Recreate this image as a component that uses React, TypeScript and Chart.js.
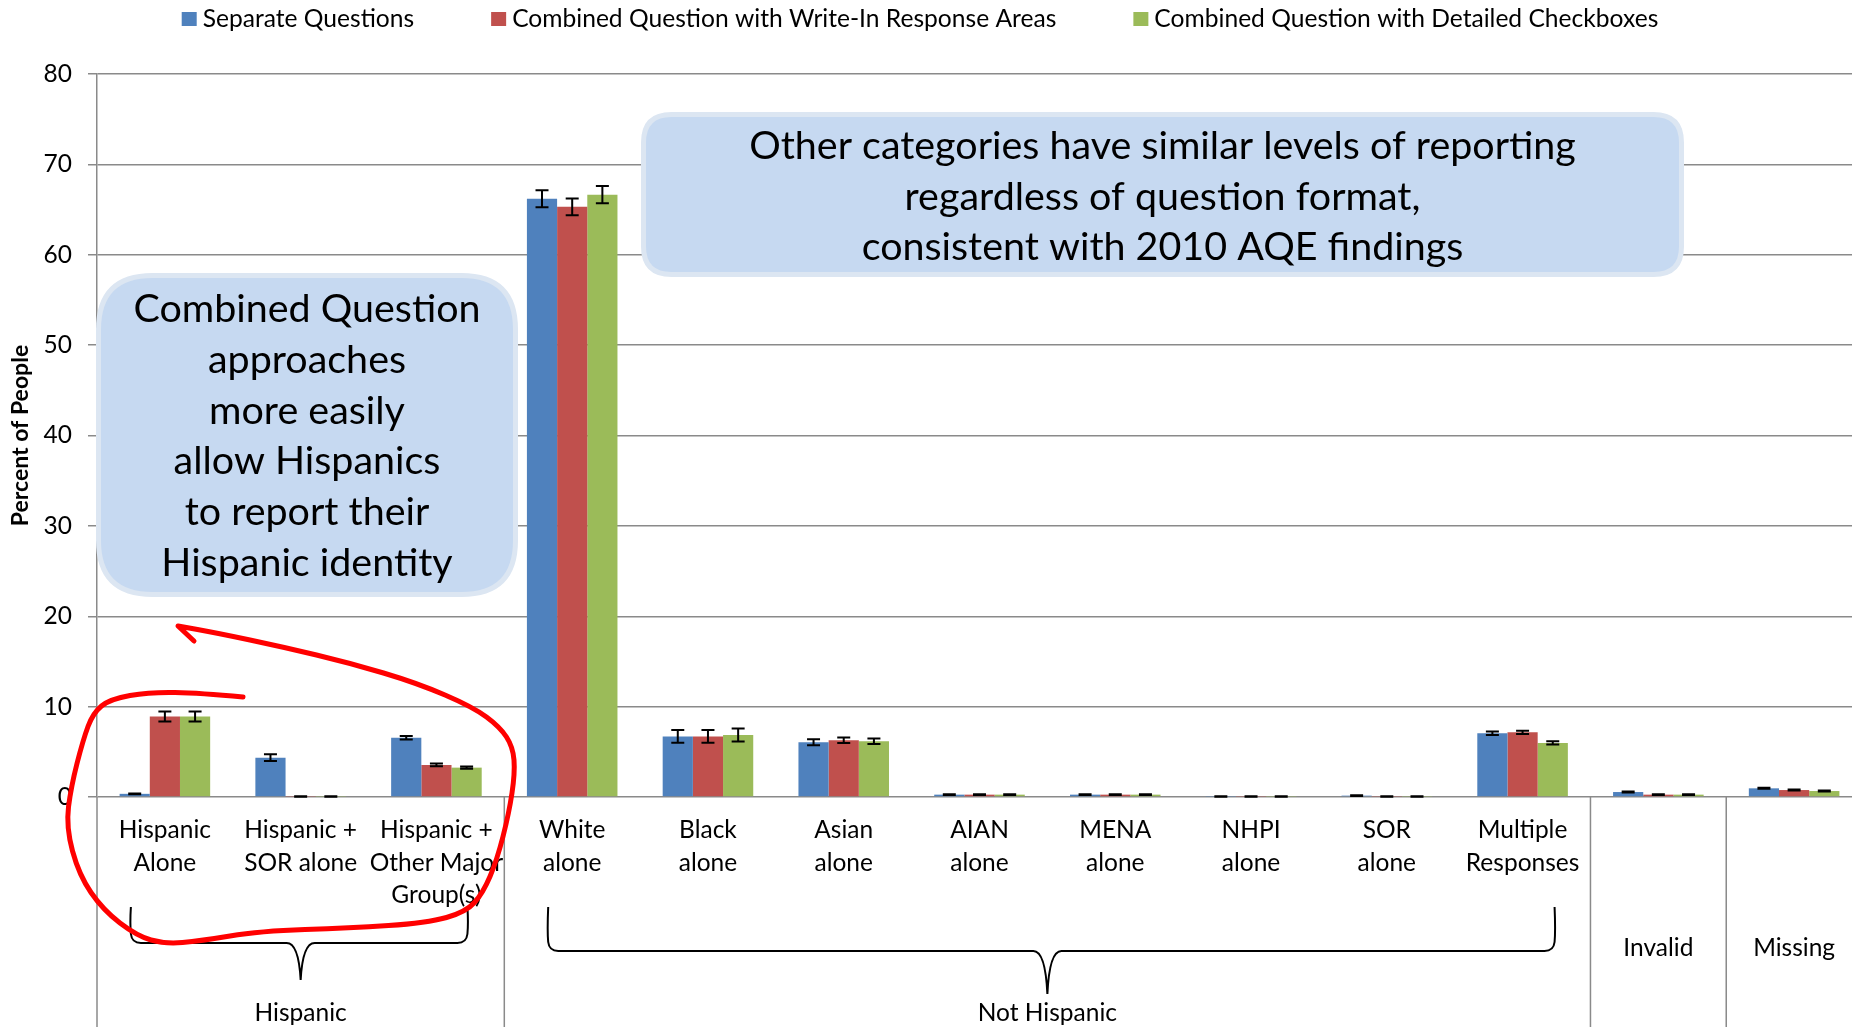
import React, { useEffect, useRef } from 'react';
import { Chart, registerables } from 'chart.js';

Chart.register(...registerables);

// ---------------- data ----------------
const categories: (string | string[])[] = [
  ['Hispanic', 'Alone'],
  ['Hispanic +', 'SOR alone'],
  ['Hispanic +', 'Other Major', 'Group(s)'],
  ['White', 'alone'],
  ['Black', 'alone'],
  ['Asian', 'alone'],
  ['AIAN', 'alone'],
  ['MENA', 'alone'],
  ['NHPI', 'alone'],
  ['SOR', 'alone'],
  ['Multiple', 'Responses'],
  'Invalid',
  'Missing',
];

const seriesNames = [
  'Separate Questions',
  'Combined Question with Write-In Response Areas',
  'Combined Question with Detailed Checkboxes',
];
const seriesColors = ['#4F81BD', '#C0504D', '#9BBB59'];

const separateValues = [0.35, 4.35, 6.55, 66.2, 6.7, 6.05, 0.26, 0.26, 0.05, 0.15, 7.05, 0.55, 0.96];
const writeInValues = [8.9, 0.05, 3.55, 65.3, 6.7, 6.27, 0.26, 0.26, 0.05, 0.05, 7.16, 0.26, 0.77];
const checkboxValues = [8.9, 0.05, 3.25, 66.65, 6.86, 6.16, 0.26, 0.26, 0.05, 0.05, 5.98, 0.26, 0.66];

const separateErrors = [0.05, 0.38, 0.2, 0.95, 0.7, 0.33, 0.05, 0.05, 0.03, 0.03, 0.2, 0.06, 0.06];
const writeInErrors = [0.55, 0.03, 0.15, 0.93, 0.7, 0.3, 0.05, 0.05, 0.03, 0.03, 0.18, 0.05, 0.05];
const checkboxErrors = [0.55, 0.03, 0.13, 0.95, 0.72, 0.3, 0.05, 0.05, 0.03, 0.03, 0.18, 0.05, 0.05];

const yMin = 0;
const yMax = 80;
const yStep = 10;

const groupLabels = ['Hispanic', 'Not Hispanic'];
const groupFirstIndex = [0, 3];
const groupLastIndex = [2, 10];
const separatorIndices = [3, 11, 12];

const calloutHispanic = [
  'Combined Question',
  'approaches',
  'more easily',
  'allow Hispanics',
  'to report their',
  'Hispanic identity',
];
const calloutOther = [
  'Other categories have similar levels of reporting',
  'regardless of question format,',
  'consistent with 2010 AQE findings',
];

// ---------------- styles ----------------
const FONT = 'Lato, "Open Sans", sans-serif';
const AXIS_GRAY = '#8a8a8a';
const TICK_SIZE = 24.5;
const LEGEND_SIZE = 24.6;

const valueSeries = [separateValues, writeInValues, checkboxValues];
const errorSeries = [separateErrors, writeInErrors, checkboxErrors];

const errorBarPlugin = {
  id: 'errorBars',
  afterDatasetsDraw(chart: any) {
    const ctx = chart.ctx;
    const ys = chart.scales.y;
    ctx.save();
    ctx.strokeStyle = '#000';
    ctx.lineWidth = 2;
    chart.data.datasets.forEach((ds: any, di: number) => {
      const meta = chart.getDatasetMeta(di);
      const errs = errorSeries[di];
      meta.data.forEach((bar: any, i: number) => {
        const v = ds.data[i];
        const e = errs[i];
        const x = bar.x;
        const yt = ys.getPixelForValue(v + e);
        const yb = ys.getPixelForValue(Math.max(v - e, 0));
        const half = 6.5;
        ctx.beginPath();
        ctx.moveTo(x, yt);
        ctx.lineTo(x, yb);
        ctx.moveTo(x - half, yt);
        ctx.lineTo(x + half, yt);
        ctx.moveTo(x - half, yb);
        ctx.lineTo(x + half, yb);
        ctx.stroke();
      });
    });
    ctx.restore();
  },
};

function roundRect(ctx: CanvasRenderingContext2D, x: number, y: number, w: number, h: number, r: number) {
  ctx.beginPath();
  ctx.moveTo(x + r, y);
  ctx.lineTo(x + w - r, y);
  ctx.quadraticCurveTo(x + w, y, x + w, y + r);
  ctx.lineTo(x + w, y + h - r);
  ctx.quadraticCurveTo(x + w, y + h, x + w - r, y + h);
  ctx.lineTo(x + r, y + h);
  ctx.quadraticCurveTo(x, y + h, x, y + h - r);
  ctx.lineTo(x, y + r);
  ctx.quadraticCurveTo(x, y, x + r, y);
  ctx.closePath();
}

function drawCallout(ctx: CanvasRenderingContext2D, x: number, y: number, w: number, h: number, r: number,
  lines: string[], firstBaseline: number, lineGap: number, size: number) {
  ctx.save();
  roundRect(ctx, x + 2.5, y + 2.5, w - 5, h - 5, r);
  ctx.fillStyle = '#C6D9F1';
  ctx.fill();
  ctx.lineWidth = 5;
  ctx.strokeStyle = '#DCE6F2';
  ctx.stroke();
  ctx.fillStyle = '#000';
  ctx.font = `${size}px ${FONT}`;
  ctx.textAlign = 'center';
  ctx.textBaseline = 'alphabetic';
  lines.forEach((t, i) => ctx.fillText(t, x + w / 2, firstBaseline + i * lineGap));
  ctx.restore();
}

function drawBrace(ctx: CanvasRenderingContext2D, l: number, r: number, cx: number, top: number, bot: number, tip: number) {
  ctx.beginPath();
  ctx.moveTo(l, top);
  ctx.quadraticCurveTo(l - 1, bot - 20, l, bot - 9);
  ctx.quadraticCurveTo(l + 1, bot, l + 10, bot);
  ctx.lineTo(cx - 14, bot);
  ctx.quadraticCurveTo(cx - 2, bot, cx, tip);
  ctx.moveTo(cx + 14, bot);
  ctx.quadraticCurveTo(cx + 2, bot, cx, tip);
  ctx.moveTo(cx + 14, bot);
  ctx.lineTo(r - 10, bot);
  ctx.quadraticCurveTo(r - 1, bot, r, bot - 9);
  ctx.quadraticCurveTo(r + 1, bot - 20, r, top);
  ctx.stroke();
}

const redLoop: [number, number][] = [
  [243, 697], [200, 693], [150, 692], [110, 699], [93, 713], [83, 740], [71, 787], [66, 827],
  [79, 875], [103, 910], [137, 936], [165, 944], [200, 941], [260, 931], [350, 928], [427, 923],
  [466, 912], [483, 893], [497, 860], [509, 813], [515, 773], [513, 747], [500, 727], [473, 707],
  [417, 683], [350, 663], [283, 647], [217, 633], [178, 626],
];

const overlayPlugin = {
  id: 'overlay',
  afterDraw(chart: any) {
    const ctx: CanvasRenderingContext2D = chart.ctx;
    const xs = chart.scales.x;
    const area = chart.chartArea;
    const H = chart.height;
    ctx.save();

    // y-axis extension and category separators
    ctx.strokeStyle = AXIS_GRAY;
    ctx.lineWidth = 1.5;
    ctx.beginPath();
    ctx.moveTo(area.left, area.bottom);
    ctx.lineTo(area.left, H);
    separatorIndices.forEach((idx) => {
      const bx = (xs.getPixelForValue(idx - 1) + xs.getPixelForValue(idx)) / 2;
      ctx.moveTo(bx, area.bottom);
      ctx.lineTo(bx, H);
    });
    ctx.stroke();

    // group braces and labels
    ctx.strokeStyle = '#000';
    ctx.lineWidth = 2;
    const braceSpecs = [
      { lo: -34, hi: 31, top: 907, bot: 943, tip: 980 },
      { lo: -24, hi: 32, top: 907, bot: 951, tip: 994 },
    ];
    ctx.fillStyle = '#000';
    ctx.font = `${TICK_SIZE}px ${FONT}`;
    ctx.textAlign = 'center';
    ctx.textBaseline = 'middle';
    groupLabels.forEach((g, gi) => {
      const p0 = xs.getPixelForValue(groupFirstIndex[gi]);
      const p1 = xs.getPixelForValue(groupLastIndex[gi]);
      const s = braceSpecs[gi];
      const cx = (p0 + p1) / 2;
      drawBrace(ctx, p0 + s.lo, p1 + s.hi, cx, s.top, s.bot, s.tip);
      ctx.fillText(g, cx, 1013);
    });

    // legend
    ctx.font = `${LEGEND_SIZE}px ${FONT}`;
    const box = 15;
    const gapBox = 6;
    const gapItem = 77;
    const widths = seriesNames.map((n) => ctx.measureText(n).width);
    const total = widths.reduce((a, w) => a + box + gapBox + w, 0) + gapItem * (seriesNames.length - 1);
    let lx = 920 - total / 2;
    ctx.textAlign = 'left';
    ctx.textBaseline = 'middle';
    seriesNames.forEach((n, i) => {
      ctx.fillStyle = seriesColors[i];
      ctx.fillRect(lx, 12, box, 14);
      ctx.fillStyle = '#000';
      ctx.fillText(n, lx + box + gapBox, 19);
      lx += box + gapBox + widths[i] + gapItem;
    });

    // callouts
    ctx.font = `100px ${FONT}`;
    const calloutSize = (100 * 827) / ctx.measureText(calloutOther[0]).width;
    drawCallout(ctx, 96, 273, 422, 324, 54, calloutHispanic, 322, 50.8, calloutSize);
    drawCallout(ctx, 641, 112, 1043, 165, 28, calloutOther, 159, 50.5, calloutSize);

    // red hand-drawn loop with hook
    ctx.strokeStyle = '#FF0000';
    ctx.lineWidth = 5;
    ctx.lineCap = 'round';
    ctx.lineJoin = 'round';
    ctx.beginPath();
    ctx.moveTo(redLoop[0][0], redLoop[0][1]);
    for (let i = 1; i < redLoop.length - 1; i++) {
      const mx = (redLoop[i][0] + redLoop[i + 1][0]) / 2;
      const my = (redLoop[i][1] + redLoop[i + 1][1]) / 2;
      ctx.quadraticCurveTo(redLoop[i][0], redLoop[i][1], mx, my);
    }
    const last = redLoop[redLoop.length - 1];
    ctx.lineTo(last[0], last[1]);
    ctx.lineTo(last[0] + 16, last[1] + 15);
    ctx.stroke();

    ctx.restore();
  },
};

export default function App() {
  const ref = useRef<HTMLCanvasElement>(null);
  useEffect(() => {
    const canvas = ref.current!;
    const chart = new Chart(canvas, {
      type: 'bar',
      data: {
        labels: categories as any,
        datasets: seriesNames.map((name, i) => ({
          label: name,
          data: valueSeries[i],
          backgroundColor: seriesColors[i],
          categoryPercentage: 0.667,
          barPercentage: 1,
        })),
      },
      options: {
        animation: false,
        responsive: false,
        devicePixelRatio: 1,
        layout: { padding: { left: 0, top: 74, right: 8, bottom: 0 } },
        plugins: { legend: { display: false }, tooltip: { enabled: false } },
        scales: {
          x: {
            grid: { display: false, drawTicks: false },
            border: { display: false },
            ticks: {
              color: '#000',
              padding: 17,
              autoSkip: false,
              maxRotation: 0,
              minRotation: 0,
              font: (c: any) => {
                const lab = c && c.index !== undefined ? categories[c.index] : undefined;
                const single = typeof lab === 'string';
                return { family: FONT, size: TICK_SIZE, lineHeight: single ? 268 / TICK_SIZE : 32.5 / TICK_SIZE };
              },
            },
            afterFit: (s: any) => {
              s.height = 230;
              s.paddingLeft = 0;
              s.paddingRight = 0;
              s.paddingTop = 0;
              s.paddingBottom = 0;
            },
          } as any,
          y: {
            min: yMin,
            max: yMax,
            ticks: { stepSize: yStep, padding: 16, color: '#000', font: { family: FONT, size: TICK_SIZE } },
            grid: { color: AXIS_GRAY, lineWidth: 1.5, tickLength: 9, drawTicks: true },
            border: { color: AXIS_GRAY, width: 1.5 },
            title: {
              display: true,
              text: 'Percent of People',
              color: '#000',
              font: { family: FONT, size: 23, weight: 'bold' },
              padding: { top: 7, bottom: 0 },
            },
            afterFit: (s: any) => {
              s.width = 97;
              s.paddingTop = 0;
              s.paddingBottom = 0;
            },
          } as any,
        },
      },
      plugins: [errorBarPlugin, overlayPlugin],
    });
    return () => chart.destroy();
  }, []);

  return (
    <div style={{ position: 'absolute', left: 0, top: 0, width: 1852, height: 1027, overflow: 'hidden', background: '#fff' }}>
      <canvas ref={ref} width={1870} height={1027} style={{ display: 'block', width: 1870, height: 1027 }} />
    </div>
  );
}
